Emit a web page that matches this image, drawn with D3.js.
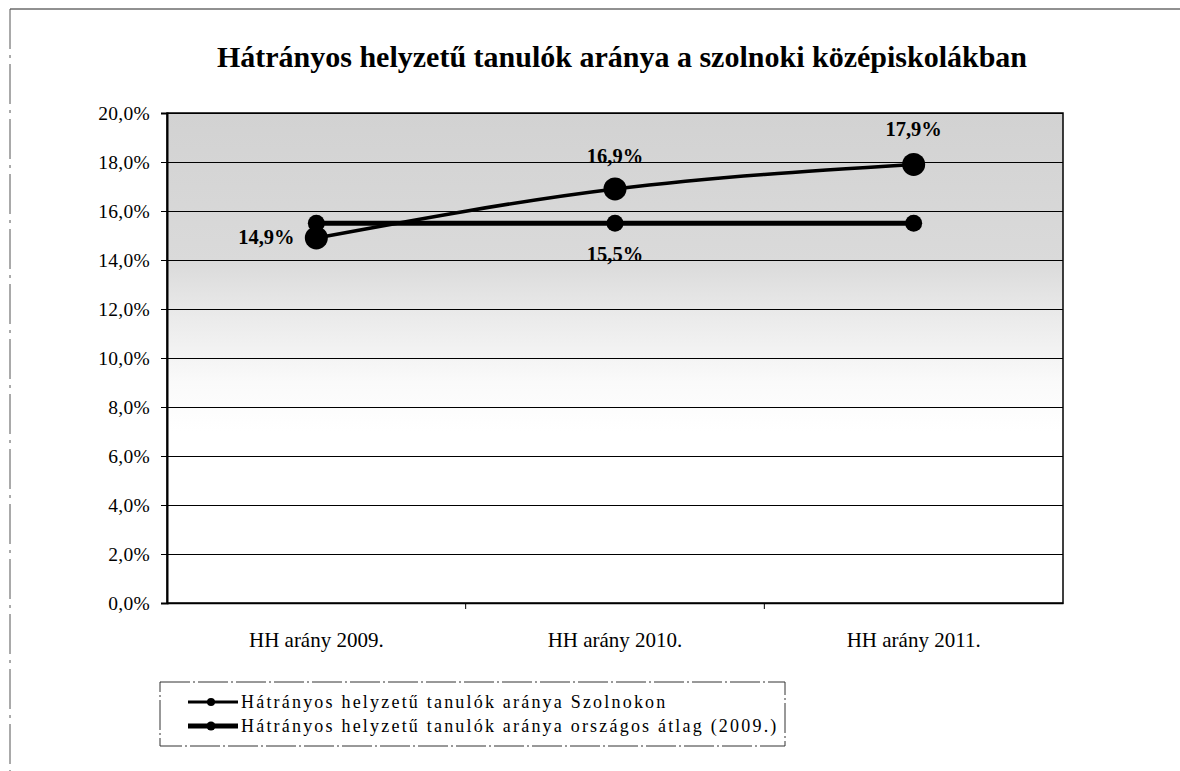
<!DOCTYPE html>
<html>
<head>
<meta charset="utf-8">
<script src="https://cdn.jsdelivr.net/npm/d3@7"></script>
<style>
	body{margin:0;background:#fff;}
	svg{display:block;font-family:"Liberation Serif","Times New Roman",serif;}
</style>
</head>
<body>
<svg></svg>
<script>
//Data
const categories = ["HH arány 2009.", "HH arány 2010.", "HH arány 2011."];
const szolnok = [14.9, 16.9, 17.9];
const orszagos = [15.5, 15.5, 15.5];
const seriesNames = ["Hátrányos helyzetű tanulók aránya Szolnokon", "Hátrányos helyzetű tanulók aránya országos átlag (2009.)"];
const yTicks = [0, 2, 4, 6, 8, 10, 12, 14, 16, 18, 20];
const title = "Hátrányos helyzetű tanulók aránya a szolnoki középiskolákban";

//Define the width height and the plot area
const [w, h] = [1180, 771];
const plot = {left: 167, top: 113, width: 896, height: 490};

const svg = d3.select("svg").attr("width", w).attr("height", h);

//background gradient for the upper part of the plot
const defs = svg.append("defs");
const grad = defs.append("linearGradient").attr("id", "bg").attr("x1", 0).attr("y1", 0).attr("x2", 0).attr("y2", 1);
grad.append("stop").attr("offset", "0%").attr("stop-color", "#d2d2d2");
grad.append("stop").attr("offset", "30%").attr("stop-color", "#dadada");
grad.append("stop").attr("offset", "42%").attr("stop-color", "#ebebeb");
grad.append("stop").attr("offset", "55%").attr("stop-color", "#fafafa");
grad.append("stop").attr("offset", "65%").attr("stop-color", "#ffffff");

//outer frame of the page scan
svg.append("line").attr("x1", 10).attr("x2", w).attr("y1", 9).attr("y2", 9).attr("stroke", "#222").attr("stroke-width", 1);
svg.append("line").attr("x1", 10).attr("x2", 10).attr("y1", 9).attr("y2", h).attr("stroke", "#555").attr("stroke-width", 1).attr("stroke-dasharray", "40,6,3,6");

//title
svg.append("text").attr("x", 622).attr("y", 67).attr("text-anchor", "middle")
	.attr("font-weight", "bold").attr("font-size", 30).text(title);

//Create the xScale and the yScale
const [xScale, yScale] = [
	d3.scaleBand().domain(categories).range([plot.left, plot.left + plot.width]),
	d3.scaleLinear().domain([0, 20]).range([plot.top + plot.height, plot.top])
];
const cx = d => xScale(d) + xScale.bandwidth() / 2;

svg.append("rect").attr("x", plot.left).attr("y", plot.top).attr("width", plot.width).attr("height", plot.height)
	.attr("fill", "url(#bg)");

//gridlines
const grid = svg.append("g").attr("transform", `translate(${plot.left}, 0)`)
	.call(d3.axisLeft(yScale).tickValues(yTicks).tickSize(-plot.width).tickFormat(""));
grid.select(".domain").remove();
grid.selectAll("line").attr("stroke", "#000").attr("stroke-width", 1.2);

//plot border
svg.append("rect").attr("x", plot.left).attr("y", plot.top).attr("width", plot.width).attr("height", plot.height)
	.attr("fill", "none").attr("stroke", "#000").attr("stroke-width", 1.5);

//y axis
const fmt = d => d.toFixed(1).replace(".", ",") + "%";
const yAxis = svg.append("g").attr("transform", `translate(${plot.left}, 0)`)
	.call(d3.axisLeft(yScale).tickValues(yTicks).tickSize(6).tickPadding(11).tickFormat(fmt));
yAxis.select(".domain").attr("stroke", "#000").attr("stroke-width", 2);
yAxis.selectAll("line").attr("stroke", "#000");
yAxis.selectAll("text").attr("font-family", "Liberation Serif").attr("font-size", 19.5).attr("letter-spacing", 0.3).attr("fill", "#000");

//x axis: ticks at band boundaries, labels at band centres
const xAxis = svg.append("g").attr("transform", `translate(0, ${plot.top + plot.height})`)
	.call(d3.axisBottom(xScale).tickSize(0).tickPadding(29));
xAxis.select(".domain").attr("stroke", "#000").attr("stroke-width", 1.5);
xAxis.selectAll("text").attr("font-family", "Liberation Serif").attr("font-size", 21).attr("fill", "#000");
xAxis.selectAll(".edge").data(categories.slice(1)).enter().append("line").attr("class", "edge")
	.attr("x1", d => xScale(d)).attr("x2", d => xScale(d)).attr("y1", 0).attr("y2", 6).attr("stroke", "#000");

//lines
const line = d3.line().x((d, i) => cx(categories[i])).y(d => yScale(d));
svg.append("path").datum(orszagos).attr("d", line).attr("fill", "none").attr("stroke", "#000").attr("stroke-width", 5);
svg.append("path").datum(szolnok).attr("d", line.curve(d3.curveMonotoneX)).attr("fill", "none").attr("stroke", "#000").attr("stroke-width", 3.5);

//markers
svg.selectAll(".m2").data(orszagos).enter().append("circle").attr("class", "m2")
	.attr("r", 8.5).attr("cx", (d, i) => cx(categories[i])).attr("cy", d => yScale(d));
svg.selectAll(".m1").data(szolnok).enter().append("circle").attr("class", "m1")
	.attr("r", 11.5).attr("cx", (d, i) => cx(categories[i])).attr("cy", d => yScale(d));

//data labels
const labelPlaces = [
	{series: szolnok, i: 0, dx: -50, dy: 6},
	{series: szolnok, i: 1, dx: 0, dy: -26},
	{series: szolnok, i: 2, dx: 0, dy: -28},
	{series: orszagos, i: 1, dx: 0, dy: 38}
];
svg.selectAll(".lbl").data(labelPlaces).enter().append("text").attr("class", "lbl")
	.attr("x", d => cx(categories[d.i]) + d.dx).attr("y", d => yScale(d.series[d.i]) + d.dy)
	.attr("text-anchor", "middle").attr("font-weight", "bold").attr("font-size", 20.5)
	.text(d => fmt(d.series[d.i]));

//legend
const legend = svg.append("g").attr("transform", "translate(160, 682)");
legend.append("rect").attr("width", 625).attr("height", 64).attr("fill", "none").attr("stroke", "#333").attr("stroke-width", 1).attr("stroke-dasharray", "30,3,2,3");
const rows = legend.selectAll(".row").data(seriesNames).enter().append("g")
	.attr("transform", (d, i) => `translate(0, ${20 + i * 24})`);
rows.append("line").attr("x1", 28).attr("x2", 78).attr("stroke", "#000").attr("stroke-width", (d, i) => i ? 5 : 3);
rows.append("circle").attr("cx", 51).attr("r", (d, i) => i ? 4.5 : 4);
rows.append("text").attr("x", 81).attr("y", 6).attr("font-size", 18).attr("letter-spacing", 2.2).text(d => d);
</script>
</body>
</html>
